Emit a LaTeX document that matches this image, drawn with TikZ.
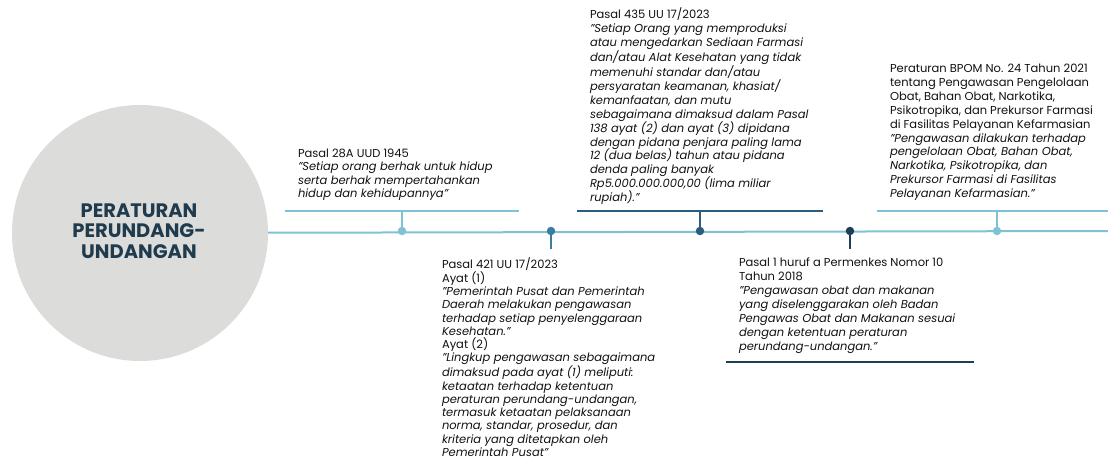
\documentclass[tikz,border=0pt]{standalone}
\usepackage{fontspec}
\setmainfont{Poppins}
\definecolor{lightb}{HTML}{80C1D6}
\definecolor{midb}{HTML}{3A7DA3}
\definecolor{darkb}{HTML}{2C5D7E}
\definecolor{navyb}{HTML}{1D3E55}
\definecolor{circfill}{HTML}{DCDDDA}
\definecolor{titlec}{HTML}{1F3B4D}
\definecolor{txt}{HTML}{111111}
\begin{document}
\begin{tikzpicture}[x=1pt,y=-1pt,
  every node/.style={inner sep=0pt, outer sep=0pt},
  txtblock/.style={anchor=north west, align=left, text=txt, font=\fontsize{11.5}{13.9}\selectfont},
  tightblock/.style={txtblock, font=\fontsize{11.5}{13.3}\selectfont},
  dotnode/.style={circle, minimum size=8.5pt, fill=#1},
  tl/.style={line width=2pt, draw=#1},
  bigcirc/.style={circle, fill=circfill, minimum size=256pt}
]
\useasboundingbox (0,0) rectangle (1108,470);
\node[bigcirc] (circ) at (140,233) {};
\node[align=center, text=titlec, font=\fontsize{19.5}{20.5}\selectfont\bfseries] (title) at (139,231) {PERATURAN\\PERUNDANG-\\UNDANGAN};
\coordinate (end) at (1108,231);
\draw[tl=lightb] (circ) -- (end);

% brackets
\coordinate (b1l) at (285,211); \coordinate (b1r) at (519,211);
\coordinate (b3l) at (577,211); \coordinate (b3r) at (823,211);
\coordinate (b5l) at (877,211); \coordinate (b5r) at (1108,211);
\coordinate (b4l) at (726,362); \coordinate (b4r) at (974,362);
\draw[tl=lightb] (b1l) -- (b1r);
\draw[tl=darkb] (b3l) -- (b3r);
\draw[tl=lightb] (b5l) -- (b5r);
\draw[tl=navyb] (b4l) -- (b4r);

% stems
\coordinate (s1) at (402,211);
\coordinate (s2) at (551,249);
\coordinate (s3) at (700,211);
\coordinate (s4) at (850,249);
\coordinate (s5) at (997,211);
\node[dotnode=lightb] (d1) at (402,231) {};
\node[dotnode=midb] (d2) at (551,231) {};
\node[dotnode=darkb] (d3) at (700,231) {};
\node[dotnode=navyb] (d4) at (850,231) {};
\node[dotnode=lightb] (d5) at (997,231) {};
\draw[tl=lightb] (d1.center) -- (s1);
\draw[tl=midb] (d2.center) -- (s2);
\draw[tl=darkb] (d3.center) -- (s3);
\draw[tl=navyb] (d4.center) -- (s4);
\draw[tl=lightb] (d5.center) -- (s5);

% texts
\node[tightblock] (t1) at (298,149) {Pasal 28A UUD 1945\\
\textit{"Setiap orang berhak untuk hidup}\\
\textit{serta berhak mempertahankan}\\
\textit{hidup dan kehidupannya"}};

\node[txtblock] (t3) at (590,8) {Pasal 435 UU 17/2023\\
\textit{"Setiap Orang yang memproduksi}\\
\textit{atau mengedarkan Sediaan Farmasi}\\
\textit{dan/atau Alat Kesehatan yang tidak}\\
\textit{memenuhi standar dan/atau}\\
\textit{persyaratan keamanan, khasiat/}\\
\textit{kemanfaatan, dan mutu}\\
\textit{sebagaimana dimaksud dalam Pasal}\\
\textit{138 ayat (2) dan ayat (3) dipidana}\\
\textit{dengan pidana penjara paling lama}\\
\textit{12 (dua belas) tahun atau pidana}\\
\textit{denda paling banyak}\\
\textit{Rp5.000.000.000,00 (lima miliar}\\
\textit{rupiah)."}};

\node[txtblock] (t5) at (890,64) {Peraturan BPOM No. 24 Tahun 2021\\
tentang Pengawasan Pengelolaan\\
Obat, Bahan Obat, Narkotika,\\
Psikotropika, dan Prekursor Farmasi\\
di Fasilitas Pelayanan Kefarmasian\\
\textit{"Pengawasan dilakukan terhadap}\\
\textit{pengelolaan Obat, Bahan Obat,}\\
\textit{Narkotika, Psikotropika, dan}\\
\textit{Prekursor Farmasi di Fasilitas}\\
\textit{Pelayanan Kefarmasian."}};

\node[tightblock] (t2) at (442,258) {Pasal 421 UU 17/2023\\
Ayat (1)\\
\textit{"Pemerintah Pusat dan Pemerintah}\\
\textit{Daerah melakukan pengawasan}\\
\textit{terhadap setiap penyelenggaraan}\\
\textit{Kesehatan."}\\
Ayat (2)\\
\textit{"Lingkup pengawasan sebagaimana}\\
\textit{dimaksud pada ayat (1) meliputi:}\\
\textit{ketaatan terhadap ketentuan}\\
\textit{peraturan perundang-undangan,}\\
\textit{termasuk ketaatan pelaksanaan}\\
\textit{norma, standar, prosedur, dan}\\
\textit{kriteria yang ditetapkan oleh}\\
\textit{Pemerintah Pusat"}};

\node[txtblock] (t4) at (739,258) {Pasal 1 huruf a Permenkes Nomor 10\\
Tahun 2018\\
\textit{"Pengawasan obat dan makanan}\\
\textit{yang diselenggarakan oleh Badan}\\
\textit{Pengawas Obat dan Makanan sesuai}\\
\textit{dengan ketentuan peraturan}\\
\textit{perundang-undangan."}};
\end{tikzpicture}
\end{document}
